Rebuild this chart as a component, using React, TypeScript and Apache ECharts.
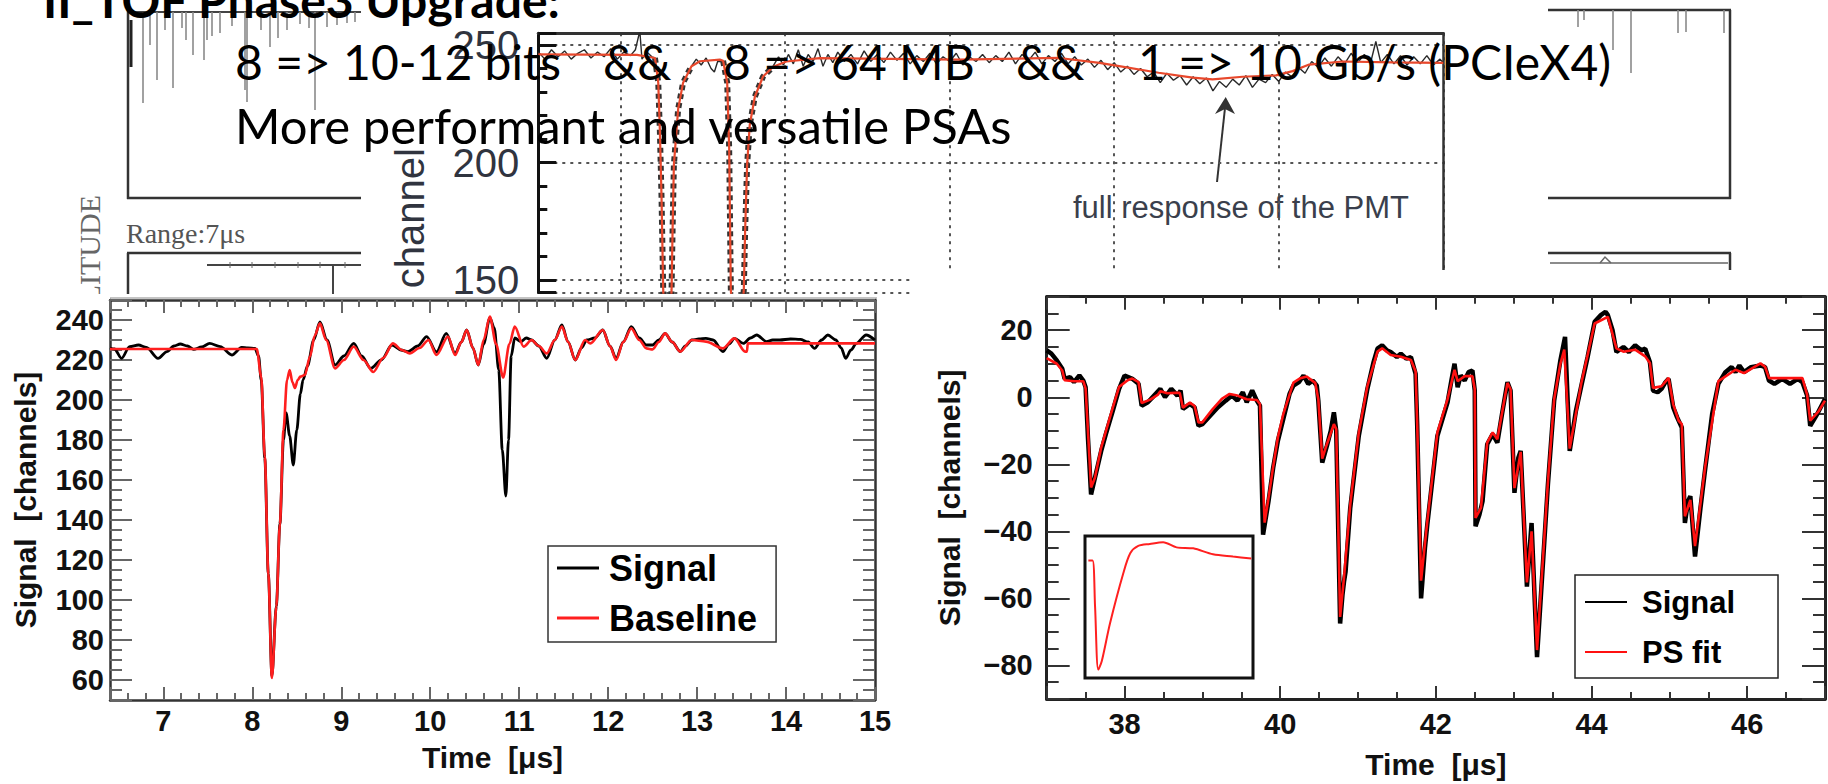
import React, { useEffect, useRef } from 'react';
import * as echarts from 'echarts';

const FONT = '"Liberation Sans", Arial, Helvetica, sans-serif';
const SERIF = '"Liberation Serif", "DejaVu Serif", serif';
const SLIDE = 'Lato, "Open Sans", sans-serif';

// ---------------- texts ----------------
const titleText = 'II_TOF Phase3 Upgrade:';
const line1Parts = ['8 => 10-12 bits', '&&', '8 => 64 MB', '&&', '1 => 10 Gb/s (PCIeX4)'];
const line1X = [235, 603, 723, 1016, 1138];
const line2Text = 'More performant and versatile PSAs';

// ---------------- top chart (PMT response) ----------------
const topYTicks = [150, 200, 250];
const topFit = [
  [-50, 246], [10, 245.8], [20.9, 244.5], [22.9, 234], [23.9, 213], [24.9, 185], [25.9, 146], [28.5, 100],
  [31, 146], [31.6, 171], [32.4, 199], [35, 222.8], [38, 234], [43.1, 241], [48.2, 243.1], [60.3, 243.8],
  [62.3, 243.3], [64.8, 234], [66, 206], [67, 146], [71, 100], [74.9, 146], [75.7, 171], [76.9, 199],
  [78.5, 216], [81.6, 228], [86.6, 236.6], [92.7, 240.8], [100.8, 243], [121, 244.4], [206, 243.8],
  [266.7, 244.5], [291, 242.4], [303, 241], [327, 238.2], [347.7, 236.1], [359.8, 235.4], [378, 236.5],
  [398.3, 237.1], [408.4, 238.9], [418.5, 241.7], [438.8, 243], [469.1, 242.6], [500, 242.4],
];
const topPulse1 = [
  [20.9, 244.5], [22.9, 234], [23.9, 213], [24.9, 185], [25.9, 146], [28.5, 100], [31, 146], [31.6, 171],
  [32.4, 199], [35, 222.8], [38, 234], [43.1, 241],
];
const topPulse2 = [
  [62.3, 243.3], [64.8, 234], [66, 206], [67, 146], [71, 100], [74.9, 146], [75.7, 171], [76.9, 199],
  [78.5, 216], [81.6, 228], [86.6, 236.6], [92.7, 240.8],
];
const topNoiseA = [
  [-50, 247], [-46, 244], [-42, 248], [-38, 245], [-34, 247.5], [-30, 244], [-26, 246.5], [-22, 248],
  [-18, 244.5], [-14, 247], [-10, 245], [-6, 248.5], [-2, 244], [2, 247], [6, 245.5], [9, 248], [11.7, 256],
  [13, 244], [16, 247], [19, 245], [21, 244.5],
];
const topNoiseB = [
  [43.1, 241], [46, 244], [49, 241.5], [52, 244.5], [55, 240], [57, 238.5], [59, 243], [62.3, 243],
];
const topNoiseC = [
  [92.7, 241], [96, 245], [99, 241.5], [102, 246], [105, 242], [108, 248], [111, 241], [114, 246], [117, 243],
  [120, 248.5], [123, 241], [126, 246], [129, 242.5], [132, 247], [136, 243], [140, 246], [144, 242],
  [148, 247.5], [152, 243], [156, 246], [160, 242.5], [164, 247], [168, 243.5], [172, 246.5], [176, 242],
  [180, 245.5], [184, 243], [188, 246.5], [192, 242], [196, 245], [200, 243], [204, 246.5], [208, 241.5],
  [212, 245], [216, 243], [220, 246], [224, 242.5], [228, 245.5], [232, 243], [236, 247], [240, 242],
  [244, 246], [248, 243.5], [252, 247], [256, 242], [260, 245.5], [264, 243], [268, 246.5], [272, 242],
  [276, 245], [280, 241.5], [284, 244], [288, 240.5], [292, 243.5], [296, 239.5], [300, 242.5], [304, 238.5],
  [308, 241], [312, 237.5], [316, 240], [320, 236.5], [324, 238.5], [328, 234], [332, 238], [336, 235],
  [340, 237], [344, 233], [348, 236.5], [352, 233.5], [356, 236], [360, 230.5], [364, 234.5], [368, 232],
  [372, 235.5], [376, 233], [380, 237], [384, 232], [388, 235.5], [392, 234], [396, 237.5], [400, 234.5],
  [404, 238.5], [408, 236.5], [412, 240.5], [416, 238], [420, 243], [424, 240.5], [428, 244.5], [432, 241],
  [436, 245], [440, 242], [444, 246.5], [448, 242.5], [452, 246], [456, 243], [459, 251.5], [462, 242.5],
  [466, 246], [470, 242], [474, 245.5], [478, 241.5], [482, 245], [486, 242], [490, 245.5], [494, 241.5],
  [498, 244], [500, 242.5],
];

// ---------------- left chart (Signal / Baseline) ----------------
const leftXTicks = [7, 8, 9, 10, 11, 12, 13, 14, 15];
const leftYTicks = [60, 80, 100, 120, 140, 160, 180, 200, 220, 240];
const leftSignal = [
  [6.4, 226], [6.45, 225.5], [6.53, 220.8], [6.62, 226.7], [6.72, 227.5], [6.81, 226.3], [6.94, 220.8],
  [7.04, 224.2], [7.12, 227], [7.19, 228], [7.27, 227], [7.34, 225.3], [7.43, 226.5], [7.52, 228.3],
  [7.64, 226.7], [7.77, 222.5], [7.88, 226.3], [7.95, 226], [8.03, 225.8], [8.07, 222], [8.1, 210],
  [8.14, 171], [8.18, 113], [8.22, 62], [8.27, 97], [8.31, 138], [8.35, 180], [8.38, 193.5], [8.42, 182],
  [8.46, 167.5], [8.5, 185], [8.54, 203], [8.57, 210], [8.62, 217], [8.69, 230], [8.76, 239], [8.84, 230],
  [8.93, 217.5], [9.03, 222], [9.14, 228.3], [9.23, 222], [9.33, 215.8], [9.45, 220], [9.57, 227.5],
  [9.67, 225], [9.75, 224.2], [9.86, 227], [9.96, 231.7], [10.07, 224], [10.18, 233.3], [10.28, 223.3],
  [10.35, 229], [10.41, 235], [10.48, 226], [10.54, 217.5], [10.6, 228], [10.67, 241], [10.72, 236],
  [10.77, 215], [10.81, 175], [10.85, 152], [10.88, 180], [10.91, 222], [10.95, 231], [11.02, 229.2],
  [11.08, 231], [11.14, 230], [11.22, 227], [11.31, 220.8], [11.4, 230], [11.48, 237.5], [11.55, 229],
  [11.63, 220], [11.7, 226], [11.76, 230], [11.85, 231], [11.94, 235], [12.02, 227], [12.09, 220.8],
  [12.17, 229], [12.26, 236.7], [12.35, 231], [12.43, 227.5], [12.5, 227.5], [12.57, 230], [12.64, 233.3],
  [12.72, 229], [12.81, 224.2], [12.87, 227], [12.94, 230], [13.02, 230.5], [13.1, 230.8], [13.18, 230],
  [13.29, 224.2], [13.36, 228], [13.42, 230.8], [13.52, 228.3], [13.6, 231], [13.67, 232.5], [13.78, 229.2],
  [13.85, 230], [13.93, 230], [14.05, 230.5], [14.16, 230.3], [14.25, 229], [14.32, 225.8], [14.4, 230],
  [14.47, 232.5], [14.56, 230], [14.62, 226], [14.67, 220.8], [14.73, 225], [14.79, 228.3], [14.9, 232.5],
  [15.0, 230],
];
const leftBaseline = [
  [6.4, 225.5], [8.05, 225.5], [8.1, 211.7], [8.14, 171.7], [8.18, 113], [8.22, 61], [8.27, 96.7],
  [8.31, 138], [8.35, 185], [8.39, 210], [8.42, 215], [8.45, 209], [8.48, 206], [8.51, 210], [8.54, 211.7],
  [8.59, 212.5], [8.65, 222], [8.7, 232], [8.76, 238.3], [8.83, 230], [8.93, 215.8], [9.03, 220],
  [9.14, 226.7], [9.25, 220], [9.36, 214], [9.47, 221], [9.58, 228.3], [9.68, 225], [9.77, 223.3],
  [9.88, 226], [9.98, 230], [10.07, 222.5], [10.2, 231.7], [10.28, 222.5], [10.35, 229], [10.41, 235],
  [10.48, 226], [10.54, 217.5], [10.6, 230], [10.67, 241.7], [10.74, 228], [10.82, 211.3], [10.89, 228],
  [10.95, 236.7], [11.05, 226.7], [11.14, 230], [11.22, 227], [11.31, 223.3], [11.4, 230], [11.48, 236.7],
  [11.55, 229], [11.63, 220], [11.74, 230], [11.8, 228.3], [11.94, 235], [12.02, 227], [12.09, 220],
  [12.17, 229], [12.26, 235.8], [12.35, 230], [12.43, 225.8], [12.5, 225.3], [12.57, 229], [12.64, 233.3],
  [12.72, 229], [12.81, 224.2], [12.94, 230], [13.1, 229.2], [13.29, 225.8], [13.42, 230.8], [13.54, 224.2],
  [13.56, 224.2], [13.57, 228.3], [15.0, 228.3],
];

// ---------------- right chart (Signal / PS fit) ----------------
const rightXTicks = [38, 40, 42, 44, 46];
const rightYTicks = [-80, -60, -40, -20, 0, 20];
const rightSignal = [
  [37.0, 14], [37.06, 13], [37.13, 11], [37.2, 8.5], [37.23, 5.5], [37.3, 6], [37.35, 4.5], [37.42, 6.5],
  [37.47, 5], [37.5, 3], [37.53, -12], [37.57, -29], [37.62, -24], [37.7, -16], [37.76, -11], [37.85, -4],
  [37.93, 2.5], [38.0, 6.5], [38.1, 5.5], [38.18, 4], [38.22, -2.5], [38.3, -1.5], [38.38, 0.5], [38.46, 2.5],
  [38.52, 0], [38.6, 2.5], [38.68, 0.5], [38.72, 2], [38.75, -3.5], [38.84, -2], [38.9, -3], [38.95, -8.5],
  [39.0, -8], [39.1, -5.5], [39.2, -3], [39.3, -1], [39.38, 0.5], [39.45, -1], [39.52, 1.5], [39.57, -1.5],
  [39.64, 2], [39.7, -1], [39.74, -2.5], [39.78, -41], [39.85, -31], [39.91, -21], [39.97, -13],
  [40.04, -6.5], [40.12, 1], [40.17, 3.5], [40.24, 4.5], [40.3, 6.5], [40.36, 4], [40.42, 5], [40.47, 3.5],
  [40.49, -1], [40.54, -19.5], [40.6, -14.5], [40.65, -10], [40.69, -4.5], [40.72, -10], [40.77, -67.5],
  [40.8, -59], [40.82, -55], [40.84, -52], [40.9, -33], [41.01, -11.5], [41.12, 2.5], [41.2, 10.5],
  [41.25, 14.5], [41.31, 15.5], [41.37, 14], [41.42, 13.5], [41.5, 12], [41.55, 13], [41.62, 11.5],
  [41.68, 12], [41.74, 7], [41.76, -8], [41.81, -60], [41.86, -45], [41.89, -38], [42.02, -11.5],
  [42.15, -1.5], [42.2, 5], [42.24, 10], [42.28, 3], [42.32, 6.5], [42.37, 5], [42.42, 7.5], [42.47, 8],
  [42.5, 2], [42.51, -38.5], [42.56, -35], [42.6, -31], [42.66, -14], [42.73, -11], [42.79, -13.5],
  [42.85, -5], [42.92, 4.5], [42.96, 2], [43.01, -28.5], [43.06, -18], [43.09, -16], [43.17, -56.5],
  [43.23, -37.5], [43.3, -77.5], [43.44, -26], [43.52, -1], [43.6, 11], [43.66, 18], [43.72, -16],
  [43.8, -4], [43.87, 3.5], [43.95, 12], [44.04, 22.5], [44.12, 24.5], [44.18, 25.5], [44.21, 24.5],
  [44.27, 20], [44.32, 13.5], [44.41, 15], [44.48, 13.5], [44.56, 15.5], [44.64, 14], [44.69, 14.5],
  [44.75, 10.5], [44.79, 2], [44.85, 1.5], [44.9, 2.5], [44.95, 4.5], [44.99, 5.5], [45.05, -3], [45.1, -6],
  [45.16, -9], [45.2, -37.5], [45.24, -31], [45.27, -29.5], [45.33, -47.5], [45.4, -33], [45.46, -21.5],
  [45.55, -5], [45.63, 4], [45.72, 7.5], [45.8, 9], [45.85, 7.5], [45.9, 9.5], [45.96, 7.5], [46.05, 9],
  [46.17, 9.5], [46.23, 9], [46.28, 5], [46.35, 4], [46.45, 5.5], [46.55, 4], [46.65, 5.5], [46.71, 4.5],
  [46.77, 0.5], [46.81, -8.5], [46.9, -5], [47.0, -0.5],
];
const rightFit = [
  [37.0, 11.7], [37.13, 10.0], [37.2, 8.0], [37.23, 5.1], [37.35, 4.8], [37.47, 4.8], [37.5, 2.6],
  [37.53, -10], [37.57, -26.9], [37.62, -24], [37.7, -15], [37.76, -10.2], [37.85, -3], [37.93, 3.1],
  [38.04, 5.1], [38.1, 5.6], [38.18, 4.5], [38.22, -1.7], [38.33, -0.7], [38.43, 0.8], [38.46, 1.8],
  [38.55, 1.2], [38.65, 1.3], [38.71, 1.3], [38.75, -3.1], [38.84, -1.6], [38.9, -2.6], [38.95, -7.5],
  [39.0, -7.5], [39.13, -3.6], [39.25, -0.5], [39.35, 1.0], [39.45, 0.5], [39.57, -0.6], [39.7, -0.8],
  [39.74, -2.0], [39.8, -37.4], [39.85, -30], [39.91, -20.7], [39.97, -12], [40.04, -5.0], [40.17, 4.4],
  [40.26, 5.7], [40.34, 6.2], [40.45, 4.3], [40.49, -0.6], [40.54, -18.3], [40.6, -14], [40.69, -8.0],
  [40.72, -9.5], [40.77, -65.5], [40.82, -53.7], [40.9, -32], [41.01, -10.5], [41.12, 3.3], [41.25, 13.6],
  [41.31, 14.6], [41.42, 12.6], [41.55, 12.1], [41.68, 11.1], [41.74, 7.7], [41.76, -7.5], [41.81, -54.7],
  [41.89, -37], [42.02, -10.5], [42.15, -0.6], [42.24, 8.2], [42.28, 4.8], [42.37, 6.3], [42.47, 6.3],
  [42.5, 2.4], [42.51, -36], [42.58, -33], [42.66, -13.5], [42.73, -10.5], [42.79, -12.5], [42.92, 4.3],
  [42.96, 2.4], [43.01, -27.1], [43.09, -16.3], [43.17, -55.2], [43.23, -40], [43.3, -75.4], [43.44, -25.2],
  [43.52, -0.6], [43.6, 10], [43.65, 14.2], [43.72, -15.3], [43.87, 4.3], [44.04, 22.0], [44.21, 24.0],
  [44.32, 14.6], [44.41, 13.6], [44.56, 14.2], [44.69, 12.2], [44.75, 10.2], [44.79, 2.8], [44.9, 3.3],
  [44.99, 5.8], [45.05, -2.1], [45.12, -7.0], [45.16, -8.0], [45.2, -35.5], [45.27, -30.6], [45.33, -44.4],
  [45.46, -20.8], [45.63, 4.8], [45.85, 8.2], [45.96, 7.2], [46.17, 10.1], [46.23, 9.1], [46.28, 5.7],
  [46.71, 5.7], [46.77, 0.8], [46.81, -7.0], [46.92, -4.1], [47.0, -1],
];
const insetFit = [
  [2, 82.7], [4.5, 82.7], [6, 50], [7.9, 5.9], [10, 12], [14.9, 38.6], [22.8, 73.8], [27, 88], [31.7, 93],
  [38.6, 94.4], [46.5, 95.6], [54.5, 92], [64.4, 91.3], [76.2, 87.1], [88.1, 85.5], [99, 84.1],
];

// ---------------- helpers ----------------
const near = (list: number[], v: number) => list.some((t) => Math.abs(t - v) < 1e-6);
const minus = (v: number) => String(v).replace('-', '\u2212');

function EChart({ option, box, bg }: { option: any; box: { left: number; top: number; width: number; height: number }; bg?: string }) {
  const ref = useRef<HTMLDivElement>(null);
  useEffect(() => {
    const chart = echarts.init(ref.current as HTMLDivElement, undefined, { renderer: 'svg' });
    chart.setOption(option);
    return () => chart.dispose();
  }, []);
  return (
    <div
      ref={ref}
      style={{ position: 'absolute', left: box.left, top: box.top, width: box.width, height: box.height, background: bg || 'transparent' }}
    />
  );
}

const line = (x1: number, y1: number, x2: number, y2: number, stroke = '#333', lineWidth = 2) => ({
  type: 'line', shape: { x1, y1, x2, y2 }, style: { stroke, lineWidth }, silent: true,
});

// ---------------- background (scope screenshots) ----------------
const bgSpikesLeft = [
  [143, 103], [157, 80], [173, 88], [193, 55], [204, 60], [207, 40], [220, 33], [245, 90], [247, 102],
  [270, 47], [287, 30], [315, 110], [327, 27], [337, 25], [347, 23], [165, 30], [182, 28], [232, 26], [300, 24],
  [150, 45], [186, 40], [212, 36], [261, 30], [278, 38], [309, 28], [355, 22],
];
const bgSpikesRight = [[1578, 27], [1584, 20], [1613, 50], [1631, 73], [1678, 33], [1686, 32], [1724, 33]];

const backgroundOption = {
  animation: false,
  graphic: [
    line(128, 12, 362, 12, '#444', 2),
    line(128, 0, 128, 199, '#333', 2.5),
    line(127, 198, 362, 198, '#333', 2.5),
    line(131, 20, 131, 67, '#222', 3),
    ...bgSpikesLeft.map(([x, y]) => line(x, 12, x, y, '#8a8a8a', 1.6)),
    {
      type: 'text', x: 89, y: 195, rotation: Math.PI / 2, silent: true,
      style: { text: 'AMPLITUDE', font: `30px ${SERIF}`, fill: '#666', align: 'right', verticalAlign: 'middle', textAlign: 'right', textVerticalAlign: 'middle' },
    },
    {
      type: 'text', x: 126, y: 233, silent: true,
      style: { text: 'Range:7\u03bcs', font: `28px ${SERIF}`, fill: '#555', align: 'left', verticalAlign: 'middle', textAlign: 'left', textVerticalAlign: 'middle' },
    },
    line(127, 253, 362, 253, '#333', 2.5),
    line(128, 253, 128, 300, '#333', 2.5),
    line(207, 265, 362, 265, '#444', 2),
    ...[230, 252, 275, 298, 320, 345].map((x) => line(x, 262, x, 268, '#666', 1)),
    line(333, 265, 333, 300, '#444', 2),
    line(1548, 10, 1731, 10, '#333', 2.5),
    line(1730, 10, 1730, 199, '#333', 2.5),
    line(1548, 198, 1731, 198, '#333', 2.5),
    ...bgSpikesRight.map(([x, y]) => line(x, 10, x, y, '#8a8a8a', 1.6)),
    line(1548, 253, 1731, 253, '#333', 2.5),
    line(1730, 253, 1730, 280, '#333', 2.5),
    line(1550, 263, 1728, 263, '#666', 1.5),
    { type: 'polyline', shape: { points: [[1600, 263], [1605, 257], [1611, 263]] }, style: { stroke: '#666', lineWidth: 1.5, fill: 'none' }, silent: true },
  ],
};

// ---------------- top chart option ----------------
const dotted = { color: '#555', type: [3, 5], width: 2 };
const topOption = {
  animation: false,
  grid: { left: 177.3, top: 33.3, width: 905, height: 263 },
  xAxis: [
    {
      type: 'value', position: 'bottom', min: -50, max: 500, minInterval: 100, maxInterval: 100,
      axisLine: { show: false, onZero: false }, axisTick: { show: false }, axisLabel: { show: false },
      splitLine: { show: true, lineStyle: dotted },
    },
    {
      type: 'value', position: 'top', min: -50, max: 500, minInterval: 100, maxInterval: 100,
      axisLine: { show: true, onZero: false, lineStyle: { color: '#333', width: 3 } },
      axisTick: { show: false }, axisLabel: { show: false }, splitLine: { show: false },
    },
  ],
  yAxis: [
    {
      type: 'value', position: 'left', min: 144.6, max: 255, minInterval: 50, maxInterval: 50,
      axisLine: { show: true, onZero: false, lineStyle: { color: '#111', width: 3 } },
      axisTick: { show: true, inside: true, length: 18, lineStyle: { color: '#111', width: 3 } },
      minorTick: { show: true, splitNumber: 5, length: 9, lineStyle: { color: '#111', width: 3 } },
      axisLabel: {
        fontFamily: FONT, fontSize: 40, color: '#30343f', margin: 19,
        formatter: (v: number) => (near(topYTicks, v) ? String(v) : ''),
      },
      splitLine: { show: true, lineStyle: dotted },
    },
    {
      type: 'value', position: 'right', min: 144.6, max: 255,
      axisLine: { show: true, onZero: false, lineStyle: { color: '#333', width: 2.5 } },
      axisTick: { show: false }, axisLabel: { show: false }, splitLine: { show: false },
    },
  ],
  graphic: [
    {
      type: 'text', x: 49, y: 148, rotation: Math.PI / 2, silent: true,
      style: { text: 'channel', font: `40px ${FONT}`, fill: '#30343f', align: 'right', verticalAlign: 'middle', textAlign: 'right', textVerticalAlign: 'middle' },
    },
    {
      type: 'text', x: 880, y: 207, silent: true,
      style: { text: 'full response of the PMT', font: `31px ${FONT}`, fill: '#3a3f4c', align: 'center', verticalAlign: 'middle', textAlign: 'center', textVerticalAlign: 'middle' },
    },
    line(856, 182, 864, 108, '#333', 2),
    { type: 'polygon', shape: { points: [[864.7, 97], [854, 114], [864, 109], [874, 114]] }, style: { fill: '#333' }, silent: true },
  ],
  series: [
    ...[topNoiseA, topNoiseB, topNoiseC].map((d) => ({
      type: 'line', data: d, symbol: 'none', z: 2, lineStyle: { color: '#2a2a2a', width: 1.4 }, silent: true,
    })),
    ...[topPulse1, topPulse2].map((d) => ({
      type: 'line', data: d, symbol: 'none', z: 2, lineStyle: { color: '#333', width: 6, type: [5, 4] }, silent: true,
    })),
    { type: 'line', data: topFit, symbol: 'none', z: 3, lineStyle: { color: '#e8482c', width: 2.2 }, silent: true },
  ],
};

// ---------------- frame axes (ROOT style, ticks on all four sides) ----------------
const boldTick = { fontFamily: FONT, fontWeight: 'bold', fontSize: 29, color: '#111' };
const boldName = { fontFamily: FONT, fontWeight: 'bold', fontSize: 30, color: '#111' };

function frameAxes(cfg: any) {
  const { xmin, xmax, xint, xminor, ymin, ymax, yint, yminor, xMajorLen, xMinorLen, yMajorLen, yMinorLen, tickColor, lineColor, lineWidth, xFmt, yFmt, xMargin, yMargin, xName, yName, xGap, yGap } = cfg;
  const axisLine = { show: true, onZero: false, lineStyle: { color: lineColor, width: lineWidth } };
  const tickStyle = { color: tickColor, width: 2 };
  const xBase = {
    type: 'value', gridIndex: 0, min: xmin, max: xmax, minInterval: xint, maxInterval: xint, axisLine,
    axisTick: { show: true, inside: true, length: xMajorLen, lineStyle: tickStyle },
    minorTick: { show: true, splitNumber: xminor, length: xMinorLen, lineStyle: tickStyle },
    splitLine: { show: false },
  };
  const yBase = {
    type: 'value', gridIndex: 0, min: ymin, max: ymax, minInterval: yint, maxInterval: yint, axisLine,
    axisTick: { show: true, inside: true, length: yMajorLen, lineStyle: tickStyle },
    minorTick: { show: true, splitNumber: yminor, length: yMinorLen, lineStyle: tickStyle },
    splitLine: { show: false },
  };
  return {
    xAxis: [
      {
        ...xBase, position: 'bottom', axisLabel: { ...boldTick, margin: xMargin, formatter: xFmt },
        name: xName, nameLocation: 'middle', nameGap: xGap, nameTextStyle: boldName,
      },
      { ...xBase, position: 'top', axisLabel: { show: false } },
    ],
    yAxis: [
      {
        ...yBase, position: 'left', axisLabel: { ...boldTick, margin: yMargin, formatter: yFmt },
        name: yName, nameLocation: 'middle', nameGap: yGap, nameTextStyle: boldName,
      },
      { ...yBase, position: 'right', axisLabel: { show: false } },
    ],
  };
}

// ---------------- left chart option ----------------
const leftAxes = frameAxes({
  xmin: 6.4, xmax: 15, xint: 1, xminor: 5, ymin: 50, ymax: 250, yint: 20, yminor: 4,
  xMajorLen: 13, xMinorLen: 7, yMajorLen: 22, yMinorLen: 12, tickColor: '#666', lineColor: '#333', lineWidth: 2.5,
  xFmt: (v: number) => (near(leftXTicks, v) ? String(v) : ''),
  yFmt: (v: number) => (near(leftYTicks, v) ? String(v) : ''),
  xMargin: 6, yMargin: 6, xName: 'Time  [\u03bcs]', yName: 'Signal  [channels]', xGap: 42, yGap: 70,
});

const leftOption = {
  animation: false,
  grid: { left: 110, top: 6, width: 765, height: 400 },
  graphic: [line(110, 4, 877, 4, '#c4c4c4', 2)],
  legend: {
    show: true, data: ['Signal', 'Baseline'], left: 548, top: 252, orient: 'vertical', icon: 'rect',
    itemWidth: 42, itemHeight: 3, itemGap: 10, padding: [2, 19, 4, 9], borderColor: '#333', borderWidth: 1.5,
    backgroundColor: '#fff', selectedMode: false,
    textStyle: { fontFamily: FONT, fontWeight: 'bold', fontSize: 36, color: '#000', lineHeight: 40, padding: [0, 0, 0, 5] },
  },
  ...leftAxes,
  series: [
    { name: 'Signal', type: 'line', data: leftSignal, symbol: 'none', color: '#000', z: 2, smooth: 0.3, smoothMonotone: 'x', lineStyle: { color: '#000', width: 2.8 } },
    { name: 'Baseline', type: 'line', data: leftBaseline, symbol: 'none', color: '#ff1f1f', z: 3, smooth: 0.3, smoothMonotone: 'x', lineStyle: { color: '#ff1f1f', width: 2.6 } },
  ],
};

// ---------------- right chart option ----------------
const rightAxes = frameAxes({
  xmin: 37, xmax: 47, xint: 2, xminor: 4, ymin: -90, ymax: 30, yint: 20, yminor: 4,
  xMajorLen: 13, xMinorLen: 7, yMajorLen: 23, yMinorLen: 12, tickColor: '#333', lineColor: '#222', lineWidth: 3,
  xFmt: (v: number) => (near(rightXTicks, v) ? String(v) : ''),
  yFmt: (v: number) => (near(rightYTicks, v) ? minus(v) : ''),
  xMargin: 10, yMargin: 14, xName: 'Time  [\u03bcs]', yName: 'Signal  [channels]', xGap: 50, yGap: 82,
});

const rightOption = {
  animation: false,
  grid: [
    { left: 136.7, top: 26.7, width: 778.3, height: 406.6 },
    { left: 175, top: 266, width: 168, height: 142, show: true, borderColor: '#111', borderWidth: 3, backgroundColor: '#fff' },
  ],
  legend: {
    show: true, data: ['Signal', 'PS fit'], left: 665, top: 305, orient: 'vertical', icon: 'rect',
    itemWidth: 42, itemHeight: 2, itemGap: 10, padding: [7, 43, 6, 10], borderColor: '#222', borderWidth: 1.5,
    backgroundColor: '#fff', selectedMode: false,
    textStyle: { fontFamily: FONT, fontWeight: 'bold', fontSize: 31, color: '#000', lineHeight: 40, padding: [0, 0, 0, 10] },
  },
  xAxis: [...rightAxes.xAxis, { type: 'value', gridIndex: 1, min: 0, max: 100, show: false }],
  yAxis: [...rightAxes.yAxis, { type: 'value', gridIndex: 1, min: 0, max: 100, show: false }],
  series: [
    { name: 'Signal', type: 'line', data: rightSignal, symbol: 'none', color: '#000', z: 2, lineStyle: { color: '#000', width: 4.5 } },
    { name: 'PS fit', type: 'line', data: rightFit, symbol: 'none', color: '#ff1010', z: 3, lineStyle: { color: '#ff1010', width: 2.6 } },
    { name: 'inset', type: 'line', xAxisIndex: 2, yAxisIndex: 2, data: insetFit, symbol: 'none', color: '#ff2020', z: 3, smooth: 0.3, lineStyle: { color: '#ff2020', width: 2 } },
  ],
};

// ---------------- text overlay ----------------
const slideText = (text: string, x: number, y: number, weight = 'normal', size = 48) => ({
  type: 'text', x, y, silent: true,
  style: { text, font: `${weight} ${size}px ${SLIDE}`, fill: '#000', align: 'left', verticalAlign: 'middle', textAlign: 'left', textVerticalAlign: 'middle' },
});

const overlayOption = {
  animation: false,
  graphic: [
    slideText(titleText, 43, -1, 'bold', 48),
    ...line1Parts.map((t, i) => slideText(t, line1X[i], 61.5)),
    slideText(line2Text, 235, 124.5, 'normal', 49),
  ],
};

export default function App() {
  return (
    <div style={{ position: 'fixed', left: 0, top: 0, width: 1828, height: 784, background: '#fff', overflow: 'hidden' }}>
      <EChart option={backgroundOption} box={{ left: 0, top: 0, width: 1828, height: 784 }} />
      <EChart option={topOption} box={{ left: 361, top: 0, width: 1100, height: 300 }} bg="#fff" />
      <EChart option={leftOption} box={{ left: 0, top: 294, width: 910, height: 490 }} bg="#fff" />
      <EChart option={rightOption} box={{ left: 910, top: 270, width: 918, height: 514 }} bg="#fff" />
      <EChart option={overlayOption} box={{ left: 0, top: 0, width: 1828, height: 784 }} />
    </div>
  );
}
